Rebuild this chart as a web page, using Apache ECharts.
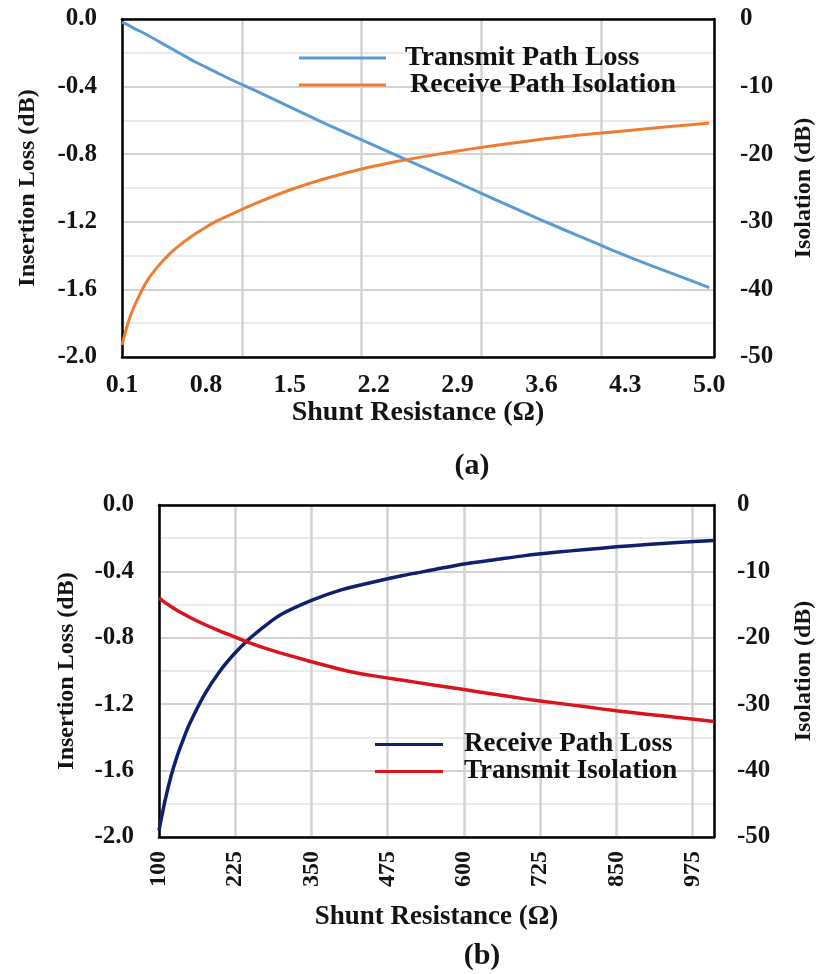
<!DOCTYPE html>
<html>
<head>
<meta charset="utf-8">
<title>Shunt Resistance Sweep</title>
<script src="https://cdn.jsdelivr.net/npm/echarts@6/dist/echarts.min.js"></script>
<style>
  html, body { margin: 0; padding: 0; background: #ffffff; }
  #chart { width: 824px; height: 974px; }
</style>
</head>
<body>
<div id="chart"></div>
<script>
// (a) low-value shunt resistor sweep, 0.1 - 5.0 ohm
const resistanceA = [0.1, 0.15, 0.2, 0.3, 0.4, 0.5, 0.6, 0.7, 0.8, 0.9, 1.0, 1.2, 1.5, 1.8, 2.1, 2.4, 2.7, 3.0, 3.3, 3.6, 3.9, 4.2, 4.5, 4.8, 5.0];
const transmitPathLoss = [-0.02, -0.035, -0.055, -0.09, -0.13, -0.17, -0.21, -0.25, -0.285, -0.32, -0.355, -0.42, -0.52, -0.62, -0.715, -0.81, -0.905, -1.00, -1.095, -1.19, -1.28, -1.37, -1.455, -1.535, -1.59];
const receivePathIsolation = [-48.2, -45.0, -42.6, -39.0, -36.6, -34.7, -33.2, -31.9, -30.8, -29.8, -29.0, -27.4, -25.3, -23.6, -22.2, -21.05, -20.1, -19.25, -18.5, -17.8, -17.2, -16.7, -16.2, -15.7, -15.4];

// (b) high-value shunt resistor sweep, 100 - 1010 ohm
const resistanceB = [100, 110, 120, 130, 140, 150, 175, 200, 225, 250, 275, 300, 350, 400, 450, 500, 550, 600, 650, 700, 750, 800, 850, 900, 950, 1010];
const receivePathLoss = [-1.96, -1.78, -1.63, -1.51, -1.41, -1.32, -1.14, -1.00, -0.89, -0.80, -0.725, -0.66, -0.575, -0.51, -0.465, -0.425, -0.39, -0.355, -0.33, -0.305, -0.285, -0.268, -0.252, -0.238, -0.226, -0.214];
const transmitIsolation = [-14.0, -14.7, -15.3, -15.9, -16.4, -16.9, -18.0, -19.0, -19.9, -20.8, -21.6, -22.3, -23.6, -24.8, -25.7, -26.4, -27.1, -27.8, -28.5, -29.2, -29.8, -30.4, -31.0, -31.5, -32.0, -32.6];

// tick labels along the resistance axes
const resistanceTicksA = [0.1, 0.8, 1.5, 2.2, 2.9, 3.6, 4.3, 5.0];
const resistanceTicksB = [100, 225, 350, 475, 600, 725, 850, 975];

const pair = (xs, ys) => xs.map((x, i) => [x, ys[i]]);

const FONT = "'Liberation Serif', 'Times New Roman', serif";
const INK = '#141414';
const MAJOR_GRID = '#d3d3d3';
const MINOR_GRID = '#e9e9e9';
const FRAME = { show: true, onZero: false, lineStyle: { color: '#000', width: 2.5 } };

const labelStyle = (size) => ({ fontFamily: FONT, fontWeight: 'bold', fontSize: size, color: INK });

function lossAxis(gridIndex, nameGap) {
  return {
    type: 'value', gridIndex, position: 'left',
    min: -2, max: 0, interval: 0.4,
    name: 'Insertion Loss (dB)', nameLocation: 'middle', nameGap,
    nameTextStyle: labelStyle(24),
    axisLine: FRAME, axisTick: { show: false },
    axisLabel: Object.assign(labelStyle(25), { margin: 25, formatter: v => v.toFixed(1) }),
    splitLine: { show: true, lineStyle: { color: MAJOR_GRID, width: 2 } },
    minorTick: { show: false, splitNumber: 2 },
    minorSplitLine: { show: true, lineStyle: { color: MINOR_GRID, width: 2 } }
  };
}

function isolationAxis(gridIndex, nameGap, margin) {
  return {
    type: 'value', gridIndex, position: 'right',
    min: -50, max: 0, interval: 10,
    name: 'Isolation (dB)', nameLocation: 'middle', nameGap,
    nameTextStyle: labelStyle(24),
    axisLine: FRAME, axisTick: { show: false },
    axisLabel: Object.assign(labelStyle(25), { margin }),
    splitLine: { show: false }
  };
}

// helper axis on the top edge: closes the frame and carries the vertical grid lines
function gridLineAxis(gridIndex, span, step) {
  return {
    type: 'value', gridIndex, position: 'top',
    min: 0, max: span, interval: step,
    axisLine: FRAME, axisTick: { show: false }, axisLabel: { show: false },
    splitLine: { show: true, lineStyle: { color: MAJOR_GRID, width: 2.5 } }
  };
}

const lineSeries = (name, xi, yi, data, color, width) => ({
  name, type: 'line', xAxisIndex: xi, yAxisIndex: yi,
  data, symbol: 'none', showSymbol: false, smooth: 0.25,
  lineStyle: { color, width }, itemStyle: { color }, z: 5
});

// one legend per entry so each row can sit exactly where it belongs
const legendItem = (name, left, top, iconWidth, size, gap) => ({
  data: [name], left, top, padding: 0, orient: 'vertical',
  icon: 'rect', itemWidth: iconWidth, itemHeight: 3, selectedMode: false,
  textStyle: Object.assign(labelStyle(size), { color: '#111', padding: [0, 0, 0, gap] })
});

const chart = echarts.init(document.getElementById('chart'));

chart.setOption({
  animation: false,
  backgroundColor: '#ffffff',
  grid: [
    { left: 122, top: 19, width: 593, height: 338 },
    { left: 159, top: 505, width: 558, height: 332 }
  ],
  xAxis: [
    {
      type: 'value', gridIndex: 0, position: 'bottom',
      min: 0.1, max: 5.04,
      name: 'Shunt Resistance (Ω)', nameLocation: 'middle', nameGap: 42,
      nameTextStyle: labelStyle(28),
      axisLine: FRAME, axisTick: { show: false },
      axisLabel: Object.assign(labelStyle(26), {
        margin: 15, customValues: resistanceTicksA, formatter: v => v.toFixed(1)
      }),
      splitLine: { show: false }
    },
    gridLineAxis(0, 4.94, 1),
    {
      type: 'value', gridIndex: 1, position: 'bottom',
      min: 100, max: 1010,
      name: 'Shunt Resistance (Ω)', nameLocation: 'middle', nameGap: 67,
      nameTextStyle: labelStyle(27),
      axisLine: FRAME, axisTick: { show: false },
      axisLabel: Object.assign(labelStyle(24), {
        margin: 14, rotate: 90, customValues: resistanceTicksB
      }),
      splitLine: { show: false }
    },
    gridLineAxis(1, 910, 125)
  ],
  yAxis: [
    lossAxis(0, 82),
    isolationAxis(0, 78, 26),
    lossAxis(1, 80),
    isolationAxis(1, 78, 23)
  ],
  legend: [
    legendItem('Transmit Path Loss', 299, 44, 87, 28, 14),
    legendItem('Receive Path Isolation', 299, 71, 87, 28, 19),
    legendItem('Receive Path Loss', 375, 731, 68, 27, 16),
    legendItem('Transmit Isolation', 375, 758, 68, 27, 16)
  ],
  graphic: [
    { type: 'text', x: 472, y: 466, style: { text: '(a)', font: 'bold 30px ' + FONT, fill: INK, align: 'center', verticalAlign: 'middle' } },
    { type: 'text', x: 482, y: 956, style: { text: '(b)', font: 'bold 30px ' + FONT, fill: INK, align: 'center', verticalAlign: 'middle' } }
  ],
  series: [
    lineSeries('Transmit Path Loss', 0, 0, pair(resistanceA, transmitPathLoss), '#5b9bd5', 3),
    lineSeries('Receive Path Isolation', 0, 1, pair(resistanceA, receivePathIsolation), '#ed7d31', 3),
    lineSeries('Receive Path Loss', 2, 2, pair(resistanceB, receivePathLoss), '#101f6e', 3.5),
    lineSeries('Transmit Isolation', 2, 3, pair(resistanceB, transmitIsolation), '#d8141c', 3.5)
  ]
});
</script>
</body>
</html>
